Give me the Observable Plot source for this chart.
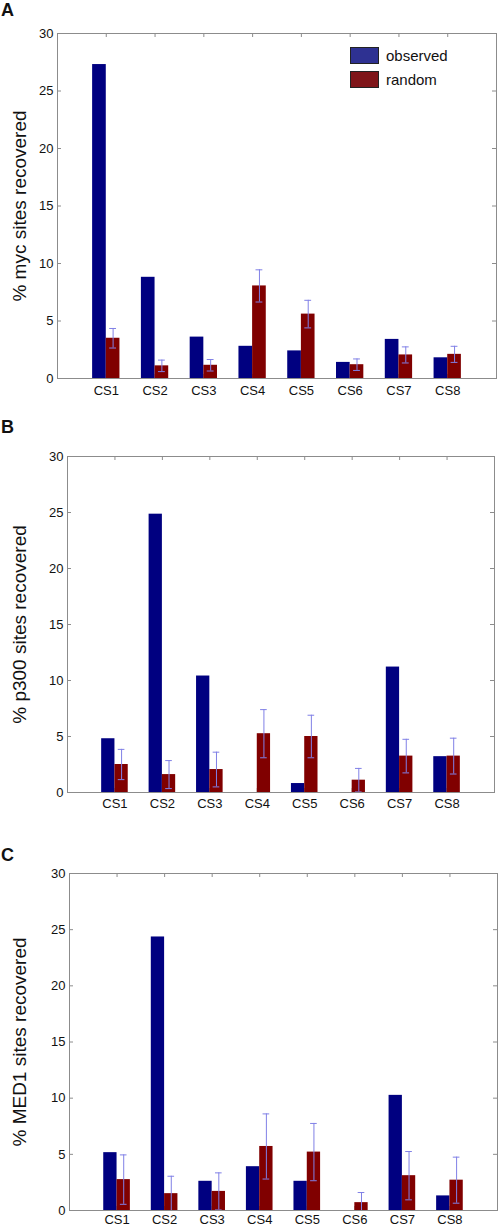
<!DOCTYPE html>
<html>
<head>
<meta charset="utf-8">
<script src="https://cdn.jsdelivr.net/npm/d3@7"></script>
<script src="https://cdn.jsdelivr.net/npm/@observablehq/plot@0.6"></script>
<style>
  body { margin: 0; background: #fff; font-family: "Liberation Sans", Arial, Helvetica, sans-serif; }
  .panel { position: relative; width: 498px; }
  .panel svg { display: block; }
  .plabel { position: absolute; left: 1px; font-weight: bold; font-size: 18px; line-height: 18px; color: #111; }
  .legend { position: absolute; font-size: 15px; color: #111; }
  .legend .row { display: flex; align-items: center; height: 24px; }
  .legend .sw { width: 27px; height: 15px; border: 1.5px solid #222; margin-right: 7px; }
</style>
</head>
<body>
<div id="root"></div>
<script>
// ---------- data ----------
const categories = ["CS1", "CS2", "CS3", "CS4", "CS5", "CS6", "CS7", "CS8"];
const seriesNames = ["observed", "random"];
const yTicks = [0, 5, 10, 15, 20, 25, 30];
const panelLetters = ["A", "B", "C"];
const yLabels = ["% myc sites recovered", "% p300 sites recovered", "% MED1 sites recovered"];

const mycObserved   = [27.3, 8.8, 3.6, 2.8, 2.4, 1.4, 3.4, 1.8];
const mycRandom     = [3.5, 1.1, 1.15, 8.05, 5.6, 1.2, 2.05, 2.1];
const mycRandomErr  = [0.85, 0.5, 0.5, 1.4, 1.2, 0.5, 0.7, 0.7];

const p300Observed  = [4.8, 24.85, 10.4, 0, 0.8, 0, 11.2, 3.2];
const p300Random    = [2.5, 1.6, 2.05, 5.25, 5.0, 1.1, 3.25, 3.25];
const p300RandomErr = [1.35, 1.25, 1.55, 2.15, 1.9, 1.05, 1.5, 1.6];

const med1Observed  = [5.15, 24.35, 2.6, 3.9, 2.6, 0, 10.25, 1.3];
const med1Random    = [2.75, 1.5, 1.7, 5.7, 5.2, 0.7, 3.1, 2.7];
const med1RandomErr = [2.2, 1.55, 1.65, 2.9, 2.55, 0.9, 2.15, 2.05];

// ---------- styles / layout ----------
const colObserved = "#000080";
const colRandom = "#800000";
const colErr = "#8080e6";
const colFrame = "#8c8c8c";
const barW = 0.28;

const layouts = [
  {height: 400, top: 33, bottom: 22, left: 57, right: 2, pad: 7, letterTop: 1},
  {height: 410, top: 56, bottom: 18, left: 67, right: 4, pad: 6, letterTop: 18},
  {height: 416, top: 63, bottom: 16, left: 69, right: 1, pad: 4, letterTop: 36}
];
const series = [
  [mycObserved, mycRandom, mycRandomErr],
  [p300Observed, p300Random, p300RandomErr],
  [med1Observed, med1Random, med1RandomErr]
];

function makePanel(k) {
  const [obs, rnd, err] = series[k];
  const L = layouts[k];
  const W = 498;
  const fw = W - L.left - L.right;
  const fh = L.height - L.top - L.bottom;
  const xPos = categories.map((c, j) => j + 1);
  const data = categories.map((c, j) => ({i: j + 1, obs: obs[j], rnd: rnd[j], err: err[j]}));
  return Plot.plot({
    width: W,
    height: L.height,
    marginTop: L.top,
    marginBottom: L.bottom,
    marginLeft: L.left,
    marginRight: L.right,
    x: {type: "linear", domain: [0, 9]},
    y: {domain: [0, 30]},
    style: {fontFamily: '"Liberation Sans", Arial, Helvetica, sans-serif', fontSize: "13px", color: "#111", background: "#fff", overflow: "visible"},
    marks: [
      Plot.tickX(xPos, {x: d => d, insetTop: fh - 4, stroke: colFrame}),
      Plot.tickX(xPos, {x: d => d, insetBottom: fh - 4, stroke: colFrame}),
      Plot.tickY(yTicks, {y: d => d, insetRight: fw - 4, stroke: colFrame}),
      Plot.tickY(yTicks, {y: d => d, insetLeft: fw - 4, stroke: colFrame}),
      Plot.rectY(data, {x1: d => d.i - barW, x2: d => d.i, y: "obs", fill: colObserved}),
      Plot.rectY(data, {x1: d => d.i, x2: d => d.i + barW, y: "rnd", fill: colRandom}),
      Plot.ruleX(data, {x: d => d.i + barW / 2, y1: d => Math.max(0, d.rnd - d.err), y2: d => d.rnd + d.err, stroke: colErr}),
      Plot.ruleY(data, {y: d => d.rnd + d.err, x1: d => d.i + barW / 4, x2: d => d.i + 3 * barW / 4, stroke: colErr}),
      Plot.ruleY(data.filter(d => d.rnd - d.err > 0), {y: d => d.rnd - d.err, x1: d => d.i + barW / 4, x2: d => d.i + 3 * barW / 4, stroke: colErr}),
      Plot.frame({stroke: colFrame}),
      Plot.axisX(xPos, {tickSize: 0, tickPadding: L.pad, tickFormat: d => categories[d - 1], fontSize: 13, label: null}),
      Plot.axisY(yTicks, {tickSize: 0, tickPadding: 4, fontSize: 13, label: null}),
      Plot.text([yLabels[k]], {text: d => d, frameAnchor: "left", textAnchor: "middle", dx: 19 - L.left, rotate: -90, fontSize: 19, lineAnchor: "middle", fill: "#111"})
    ]
  });
}

const root = document.getElementById("root");
for (let k = 0; k < 3; k++) {
  const div = document.createElement("div");
  div.className = "panel";
  div.style.height = layouts[k].height + "px";
  div.appendChild(makePanel(k));
  const lab = document.createElement("div");
  lab.className = "plabel";
  lab.style.top = layouts[k].letterTop + "px";
  lab.textContent = panelLetters[k];
  div.appendChild(lab);
  if (k === 0) {
    const lg = document.createElement("div");
    lg.className = "legend";
    lg.style.left = "350px";
    lg.style.top = "43px";
    const swCols = ["#2e3192", "#7f1519"];
    seriesNames.forEach((name, j) => {
      const row = document.createElement("div");
      row.className = "row";
      const sw = document.createElement("div");
      sw.className = "sw";
      sw.style.background = swCols[j];
      const t = document.createElement("span");
      t.textContent = name;
      row.appendChild(sw);
      row.appendChild(t);
      lg.appendChild(row);
    });
    div.appendChild(lg);
  }
  root.appendChild(div);
}
</script>
</body>
</html>
